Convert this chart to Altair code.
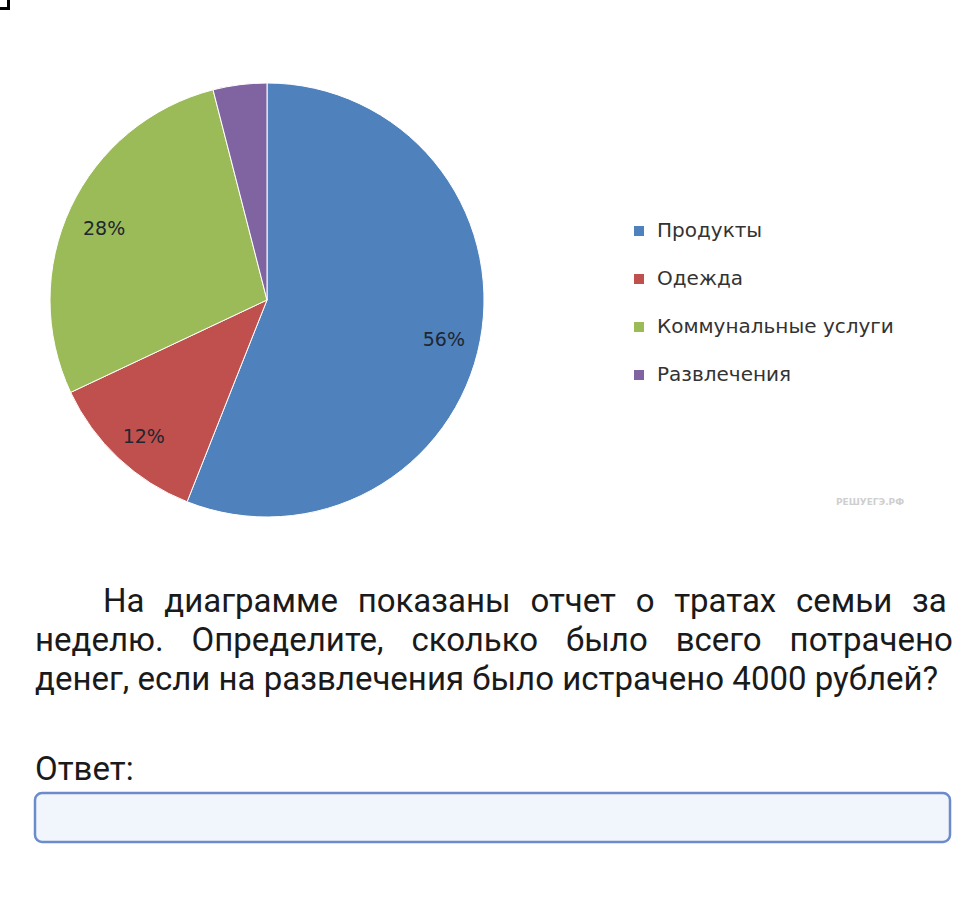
import altair as alt
import pandas as pd

# ---- data ----
categories = ["Продукты", "Одежда", "Коммунальные услуги", "Развлечения"]
shares = [56, 12, 28, 4]
labels = ["56%", "12%", "28%", ""]
colors = ["#4F81BD", "#C0504D", "#9BBB59", "#8064A2"]

paragraph = [
    "На диаграмме показаны отчет о тратах семьи за",
    "неделю. Определите, сколько было всего потрачено",
    "денег, если на развлечения было истрачено 4000 рублей?",
]
answer_label = "Ответ:"
watermark = "РЕШУЕГЭ.РФ"

df = pd.DataFrame({
    "cat": categories,
    "value": shares,
    "label": labels,
    "idx": list(range(len(categories))),
})

CX, CY, R = 267, 300, 217

theta = alt.Theta("value:Q", stack=True)
order = alt.Order("idx:Q", sort="ascending")

pie = alt.Chart(df).mark_arc(radius=R, stroke="white", strokeWidth=1).encode(
    theta=theta,
    order=order,
    color=alt.Color(
        "cat:N",
        scale=alt.Scale(domain=categories, range=colors),
        sort=categories,
        legend=alt.Legend(
            title=None,
            orient="none",
            legendX=629,
            legendY=221,
            symbolType="square",
            symbolSize=100,
            symbolStrokeWidth=0,
            labelFont="DejaVu Sans",
            labelFontSize=20,
            labelColor="#333333",
            labelOffset=8,
            labelLimit=400,
            rowPadding=28,
        ),
    ),
    x=alt.value(CX),
    y=alt.value(CY),
)

pie_labels = alt.Chart(df).mark_text(
    radius=180, font="DejaVu Sans", fontSize=19, color="#1e2630", dy=6
).encode(
    theta=theta,
    order=order,
    detail="cat:N",
    text="label:N",
    x=alt.value(CX),
    y=alt.value(CY),
)

one = alt.Data(values=[{}])

wm = alt.Chart(one).mark_text(
    text=watermark, font="DejaVu Sans", fontSize=9, fontWeight="bold",
    color="#cfcfcf", align="center", baseline="middle"
).encode(x=alt.value(870), y=alt.value(502))

# justified lines: widen the word gaps of the first two lines
gap_fill = [" \u00a0\u200a", " \u00a0\u00a0\u200a", " "]
line_x = [103, 35, 35]
line_y = [612, 651, 690]
text_layers = []
for i, line in enumerate(paragraph):
    shown = gap_fill[i].join(line.split(" "))
    text_layers.append(
        alt.Chart(one).mark_text(
            text=shown, font="Roboto", fontSize=33, color="#1a1a1a",
            align="left", baseline="alphabetic"
        ).encode(x=alt.value(line_x[i]), y=alt.value(line_y[i]))
    )

answer = alt.Chart(one).mark_text(
    text=answer_label, font="Roboto", fontSize=33, color="#1a1a1a",
    align="left", baseline="alphabetic"
).encode(x=alt.value(35), y=alt.value(780))

box = alt.Chart(one).mark_rect(
    fill="#f1f5fc", stroke="#6b8bcb", strokeWidth=2.5, cornerRadius=7
).encode(x=alt.value(35), x2=alt.value(950), y=alt.value(793), y2=alt.value(842))

br1 = alt.Chart(one).mark_rule(color="black", strokeWidth=3).encode(
    x=alt.value(8.5), y=alt.value(0), y2=alt.value(10))
br2 = alt.Chart(one).mark_rule(color="black", strokeWidth=3).encode(
    x=alt.value(0), x2=alt.value(10), y=alt.value(8.5))

chart = alt.layer(
    pie, pie_labels, wm, *text_layers, answer, box, br1, br2
).properties(
    width=962, height=922, padding=0,
    autosize=alt.AutoSizeParams(type="none"),
    background="white",
).configure_view(stroke=None)

chart.save("out.html", embed_options={"renderer": "svg", "actions": False})
